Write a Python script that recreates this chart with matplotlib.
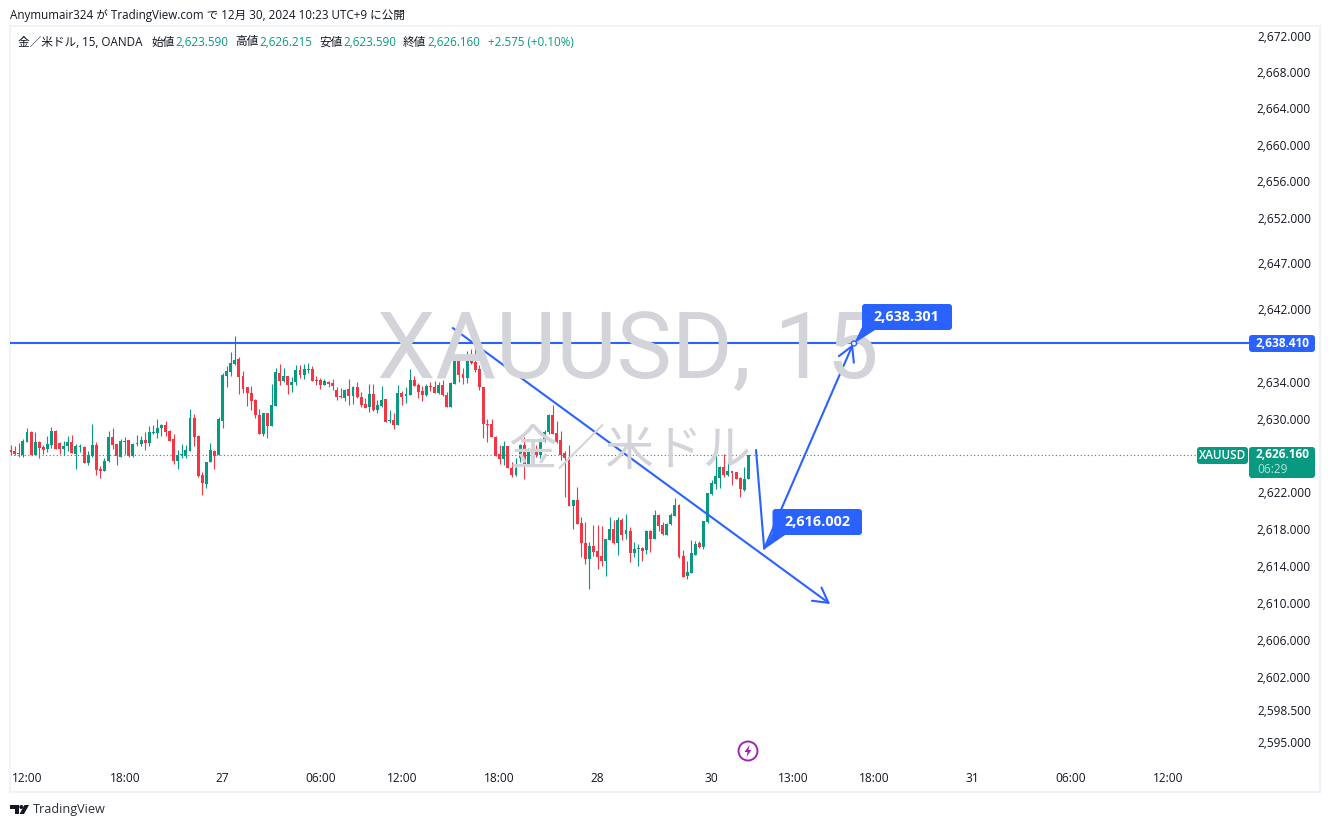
import numpy as np
import matplotlib
matplotlib.use('Agg')
from matplotlib import pyplot as plt
from matplotlib.patches import FancyBboxPatch, Polygon, Circle
from matplotlib.transforms import IdentityTransform

plt.rcParams['font.family'] = ['Open Sans', 'Noto Sans CJK JP', 'DejaVu Sans']

opens = [2626.74,2626.63,2626.41,2626.23,2627.61,2628.70,2626.20,2627.61,2627.07,2626.85,
    2627.29,2628.81,2627.50,2626.85,2627.18,2627.61,2626.31,2627.07,2627.07,2625.32,
    2626.09,2627.29,2624.67,2624.45,2625.54,2628.16,2627.40,2625.98,2627.61,2627.83,
    2626.09,2627.40,2627.40,2627.83,2627.50,2628.60,2628.60,2629.14,2629.47,2628.81,
    2627.94,2625.54,2626.20,2626.09,2626.63,2630.23,2628.27,2624.01,2623.03,2625.43,
    2626.63,2626.16,2629.90,2634.81,2635.25,2636.12,2636.67,2634.81,2633.61,2632.96,
    2632.19,2630.56,2628.49,2630.78,2629.36,2631.54,2635.14,2634.27,2634.81,2633.83,
    2634.16,2635.47,2634.92,2635.47,2635.57,2634.37,2634.37,2633.83,2634.16,2634.05,
    2633.28,2632.63,2632.41,2633.39,2632.63,2633.61,2632.52,2631.76,2631.43,2632.85,
    2631.10,2631.54,2632.30,2629.90,2630.01,2629.47,2632.96,2632.63,2632.74,2634.37,
    2633.83,2633.18,2632.74,2633.72,2633.61,2632.96,2633.83,2632.74,2631.43,2633.94,
    2636.67,2635.03,2634.59,2636.67,2636.34,2635.57,2633.61,2629.58,2629.58,2628.16,
    2626.31,2625.76,2627.18,2624.78,2624.01,2625.87,2627.29,2625.21,2626.74,2626.52,
    2626.20,2627.72,2628.70,2630.56,2628.60,2627.83,2626.41,2625.98,2620.63,2621.29,
    2618.78,2616.60,2614.86,2616.27,2615.73,2615.18,2614.64,2616.93,2618.12,2616.60,
    2619.11,2617.58,2617.91,2615.51,2615.95,2616.05,2615.84,2617.91,2617.04,2619.65,
    2618.56,2617.47,2618.67,2619.54,2620.74,2615.18,2613.00,2613.33,2615.29,2616.60,
    2616.16,2618.89,2621.94,2623.03,2623.69,2624.89,2624.01,2624.45,2624.34,2623.69,
    2622.38,2623.59]
highs = [2627.29,2627.18,2627.54,2627.94,2629.14,2628.81,2628.70,2627.72,2627.29,2628.27,
    2629.25,2628.92,2627.61,2627.72,2628.27,2628.38,2627.40,2627.40,2627.18,2626.63,
    2629.58,2627.61,2625.00,2625.87,2628.81,2629.14,2627.40,2627.94,2628.16,2627.83,
    2627.50,2628.38,2628.27,2628.70,2629.36,2629.47,2630.12,2629.58,2629.90,2628.92,
    2628.49,2626.74,2627.40,2627.29,2631.21,2630.67,2628.38,2624.34,2625.43,2627.50,
    2626.74,2630.34,2635.14,2635.90,2637.43,2639.17,2636.88,2635.36,2633.61,2633.72,
    2632.30,2631.21,2630.78,2630.78,2633.94,2635.68,2636.12,2635.68,2634.81,2634.70,
    2636.01,2636.01,2636.12,2636.23,2635.90,2634.81,2634.59,2634.48,2634.27,2634.48,
    2633.61,2633.50,2633.39,2634.48,2633.72,2634.16,2633.07,2632.41,2633.94,2633.94,
    2632.19,2633.72,2632.30,2631.10,2630.78,2633.83,2633.18,2633.61,2635.57,2634.81,
    2634.05,2633.72,2633.94,2634.16,2634.27,2634.16,2634.37,2633.07,2634.16,2637.10,
    2636.99,2635.68,2637.54,2637.76,2638.41,2636.01,2633.61,2630.12,2630.12,2628.27,
    2627.29,2627.72,2627.18,2625.43,2625.87,2627.40,2628.16,2626.96,2626.85,2627.29,
    2628.05,2628.92,2630.67,2631.65,2629.90,2628.81,2626.63,2627.29,2621.29,2622.71,
    2619.43,2618.89,2616.71,2618.56,2618.56,2618.45,2617.04,2619.43,2619.11,2619.43,
    2619.33,2619.76,2618.34,2616.71,2616.49,2616.16,2618.02,2618.02,2620.20,2619.76,
    2618.89,2618.78,2619.87,2621.51,2620.85,2615.84,2614.64,2616.93,2616.82,2616.82,
    2619.00,2622.05,2623.47,2626.20,2625.00,2626.31,2625.43,2624.45,2624.34,2623.80,
    2624.89,2626.22]
lows = [2626.16,2626.16,2626.01,2626.01,2627.61,2626.20,2626.16,2625.87,2626.31,2626.52,
    2626.96,2626.85,2626.31,2626.16,2626.63,2626.41,2624.67,2626.52,2625.32,2625.14,
    2626.01,2624.01,2623.69,2624.45,2625.43,2626.85,2625.11,2625.98,2626.31,2625.98,
    2625.98,2627.18,2627.18,2626.74,2627.18,2628.49,2628.05,2628.27,2628.27,2627.72,
    2625.21,2624.67,2625.87,2625.87,2626.63,2627.18,2623.80,2621.83,2622.60,2625.43,
    2624.67,2626.16,2629.14,2633.61,2634.81,2636.01,2632.85,2632.96,2631.54,2631.10,
    2630.23,2628.49,2628.27,2628.05,2629.36,2631.54,2633.83,2634.16,2632.85,2633.07,
    2633.83,2634.59,2634.48,2635.14,2634.27,2633.83,2633.39,2633.83,2633.61,2633.28,
    2632.19,2632.41,2632.09,2631.65,2631.76,2632.41,2631.43,2631.32,2630.89,2631.00,
    2630.78,2631.43,2629.79,2629.69,2629.03,2629.47,2631.65,2631.87,2632.74,2633.72,
    2632.41,2632.09,2632.63,2633.18,2632.96,2632.85,2632.63,2631.43,2631.43,2633.94,
    2634.16,2633.94,2634.05,2636.12,2635.25,2633.28,2628.05,2627.61,2628.16,2626.09,
    2625.21,2625.11,2624.78,2623.80,2623.91,2625.43,2623.58,2625.11,2625.21,2625.98,
    2625.87,2627.61,2628.49,2628.49,2627.50,2625.65,2621.62,2620.63,2618.12,2618.67,
    2615.07,2614.31,2611.58,2615.18,2613.76,2614.09,2613.00,2616.93,2616.49,2615.29,
    2616.93,2617.04,2614.53,2615.07,2614.09,2614.64,2615.40,2615.62,2617.04,2617.91,
    2617.47,2617.47,2618.56,2619.54,2614.96,2612.89,2612.67,2613.33,2615.29,2616.05,
    2615.95,2618.78,2621.83,2622.49,2622.60,2623.80,2623.91,2622.92,2623.58,2621.62,
    2622.27,2623.59]
closes = [2626.52,2626.31,2626.27,2627.72,2628.70,2626.20,2627.61,2626.96,2626.74,2627.40,
    2628.81,2626.89,2626.85,2627.18,2627.61,2626.41,2627.18,2627.18,2625.32,2626.20,
    2627.29,2624.56,2624.45,2625.54,2628.16,2627.29,2626.09,2627.72,2627.72,2626.09,
    2627.40,2627.50,2627.83,2627.50,2628.70,2628.70,2629.14,2629.47,2628.70,2627.72,
    2625.54,2626.20,2626.31,2626.74,2630.23,2628.16,2623.91,2623.14,2625.43,2626.74,
    2626.09,2630.12,2634.92,2635.36,2636.23,2636.56,2634.70,2633.39,2632.96,2632.08,
    2630.56,2628.49,2630.78,2629.36,2631.65,2635.25,2634.27,2634.81,2633.83,2634.16,
    2635.47,2634.92,2635.57,2635.57,2634.27,2634.27,2633.83,2634.27,2633.94,2633.72,
    2632.52,2632.52,2633.28,2632.63,2633.61,2632.52,2631.65,2631.32,2632.85,2631.10,
    2631.65,2632.19,2629.79,2630.01,2629.47,2632.96,2632.52,2632.85,2634.37,2633.72,
    2633.07,2632.74,2633.72,2633.61,2632.96,2633.83,2632.74,2631.43,2634.05,2636.67,
    2634.92,2634.59,2636.77,2636.23,2635.47,2633.61,2629.58,2629.47,2628.16,2626.09,
    2625.76,2627.18,2624.78,2624.01,2624.78,2627.29,2625.21,2626.74,2626.41,2626.20,
    2627.83,2628.70,2630.56,2628.49,2627.61,2626.20,2625.87,2620.63,2621.29,2618.67,
    2616.60,2614.86,2616.27,2615.62,2615.07,2614.64,2617.04,2618.12,2616.60,2619.11,
    2617.47,2618.02,2615.51,2615.95,2616.05,2615.73,2617.91,2617.04,2619.65,2618.45,
    2617.58,2618.67,2619.65,2620.74,2615.07,2612.89,2613.44,2615.51,2616.49,2616.16,
    2619.00,2622.05,2623.14,2623.91,2624.89,2624.01,2624.45,2624.23,2623.58,2622.49,
    2623.58,2626.16]

# the scale prints rounded values, so the ticks sit a little off the round numbers
price_ticks = [2671.90, 2667.97, 2664.0, 2660.0, 2656.1, 2652.1, 2647.1, 2642.1, 2634.2, 2630.15,
    2622.17, 2618.13, 2614.1, 2610.06, 2606.03, 2602.0, 2598.4, 2594.9]
price_labels = ['2,672.000', '2,668.000', '2,664.000', '2,660.000', '2,656.000', '2,652.000',
    '2,647.000', '2,642.000', '2,634.000', '2,630.000', '2,622.000', '2,618.000', '2,614.000',
    '2,610.000', '2,606.000', '2,602.000', '2,598.500', '2,595.000']
time_ticks = [4, 28, 52, 76, 96, 120, 144, 172, 192, 212, 236, 260, 284]
time_labels = ['12:00', '18:00', '27', '06:00', '12:00', '18:00', '28', '30', '13:00',
    '18:00', '31', '06:00', '12:00']

last_price = 2626.160
level_price = 2638.410
trend_line = [(108.5, 2640.05), (201.1, 2609.95)]
drop_line = [(182.9, 2626.75), (184.9, 2616.002)]
rise_line = [(184.9, 2616.002), (206.7, 2638.301)]

GREEN = '#089981'
RED = '#f23645'
BLUE = '#2962ff'
TEXT = '#131722'
W, H = 1330, 827
SPACE = 4.075

fig = plt.figure(figsize=(W / 100, H / 100), dpi=100, facecolor='white')
ax = fig.add_axes([10 / W, 1 - 792 / H, 1310 / W, 766 / H])
ax.set_xlim((10 - 10.7) / SPACE, (1320 - 10.7) / SPACE)
ax.set_ylim(2589.45, 2672.99)
for s in ax.spines.values():
    s.set_color('#f0f3fa')
    s.set_linewidth(1.5)

x = np.arange(len(opens))
o = np.array(opens)
c = np.array(closes)
cols = np.where(c >= o, GREEN, RED)
ax.vlines(x, lows, highs, colors=cols, lw=0.8, zorder=3)
ax.bar(x, np.abs(c - o), bottom=np.minimum(o, c), width=0.72, color=cols, linewidth=0, zorder=3)

# watermark sits behind the candles
fig.text(628 / W, 1 - 353 / H, 'XAUUSD, 15', fontsize=67, color='#d3d4d9', ha='center',
    va='center', family=['Roboto'], zorder=0)
fig.text(630 / W, 1 - 451 / H, '金／米ドル', fontsize=35, color='#d3d4d9', ha='center',
    va='center', family=['Noto Sans CJK JP'], zorder=0)
ax.patch.set_alpha(0)

# price and time scales
ax.yaxis.tick_right()
ax.set_yticks(price_ticks, price_labels)
ax.tick_params(axis='y', length=0, pad=-6.5, labelsize=8.6, labelcolor=TEXT)
for t in ax.get_yticklabels():
    t.set_horizontalalignment('right')
ax.set_xticks(time_ticks, time_labels)
ax.tick_params(axis='x', length=0, pad=-14.5, labelsize=8.6, labelcolor=TEXT)


def line(pts, arrow=False):
    kw = dict(arrowstyle='->,head_length=0.75,head_width=0.42' if arrow else '-',
              color=BLUE, lw=1.5, shrinkA=0, shrinkB=0, mutation_scale=14)
    ax.annotate('', xy=pts[1], xytext=pts[0], arrowprops=kw, zorder=5)


ax.plot([ax.get_xlim()[0], (1248 - 10.7) / SPACE], [level_price, level_price], color=BLUE, lw=1.5, zorder=5)
ax.plot([ax.get_xlim()[0], (1197 - 10.7) / SPACE], [last_price, last_price], color=GREEN, lw=0.8,
    ls=(0, (1, 2.2)), zorder=2)
line(trend_line, True)
line(drop_line)
line(rise_line, True)


def pxbox(x0, y0, x1, y1, color):
    y0, y1 = H - y1, H - y0
    p = FancyBboxPatch((x0 + 3, y0 + 3), x1 - x0 - 6, y1 - y0 - 6, boxstyle='round,pad=3,rounding_size=3',
        fc=color, ec='none', transform=IdentityTransform(), zorder=7)
    fig.add_artist(p)


def pxpoly(pts, color, z=7):
    fig.add_artist(Polygon([(a, H - b) for a, b in pts], closed=True, fc=color, ec='none',
        transform=IdentityTransform(), zorder=z))


def pxtext(a, b, s, **kw):
    kw.setdefault('fontsize', 8.6)
    kw.setdefault('color', TEXT)
    kw.setdefault('va', 'center')
    fig.text(a / W, 1 - b / H, s, **kw)


# callouts
pxbox(862, 304, 952, 330, BLUE)
pxpoly([(854, 343.5), (862, 327), (875, 330)], BLUE)
pxtext(906.5, 316.5, '2,638.301', color='white', ha='center', fontsize=10.4, fontweight='bold', zorder=8)
pxbox(772.5, 509, 862, 535, BLUE)
pxpoly([(764, 549.5), (772.7, 532), (785, 535)], BLUE)
pxtext(817, 521.5, '2,616.002', color='white', ha='center', fontsize=10.4, fontweight='bold', zorder=8)
fig.add_artist(Circle((854, H - 343.5), 2.5, fc='white', ec=BLUE, lw=1, transform=IdentityTransform(), zorder=8))

# price labels on the right
pxbox(1249, 335, 1315, 352, BLUE)
pxtext(1310, 343, f'{level_price:,.3f}', color='white', ha='right', fontweight='bold', zorder=8)
pxbox(1197, 447, 1248, 464, GREEN)
pxtext(1222.5, 455.5, 'XAUUSD', color='white', ha='center', fontsize=8.4, fontweight='semibold', zorder=8)
pxbox(1249, 447, 1315, 478, GREEN)
pxtext(1310, 455, f'{last_price:,.3f}', color='white', ha='right', fontweight='bold', zorder=8)
pxtext(1257, 469, '06:29', color='#b5e0d8', ha='left', zorder=8)

# header and legend
pxtext(10, 15, 'Anymumair324 が TradingView.com で 12月 30, 2024 10:23 UTC+9 に公開', fontsize=8.33)
pxtext(18, 42, '金／米ドル, 15, OANDA', fontsize=8.4)
for a, s, col in [(151, '始値', TEXT), (175, '2,623.590', GREEN), (235, '高値', TEXT), (259, '2,626.215', GREEN),
                  (319, '安値', TEXT), (343, '2,623.590', GREEN), (403, '終値', TEXT), (427, '2,626.160', GREEN),
                  (488, '+2.575 (+0.10%)', GREEN)]:
    pxtext(a, 42, s, color=col, fontsize=8.4)

# lightning badge
fig.add_artist(Circle((748, H - 751), 9.5, fc='white', ec='#9c27b0', lw=1.4, transform=IdentityTransform(), zorder=7))
pxpoly([(749.5, 745), (744.5, 752), (747.5, 752), (746.5, 757), (751.5, 750), (748.5, 750)], '#9c27b0', 8)

# footer logo
pxpoly([(10, 805), (19, 805), (19, 814), (14.5, 814), (14.5, 809), (10, 809)], TEXT)
pxpoly([(24.5, 805), (29, 805), (24, 814), (19.5, 814)], TEXT)
fig.add_artist(Circle((21.3, H - 807), 2, fc=TEXT, ec='none', transform=IdentityTransform(), zorder=7))
pxtext(33, 809.5, 'TradingView', fontsize=9.1, color='#2a2e39')

fig.savefig('out.png', dpi=100)
